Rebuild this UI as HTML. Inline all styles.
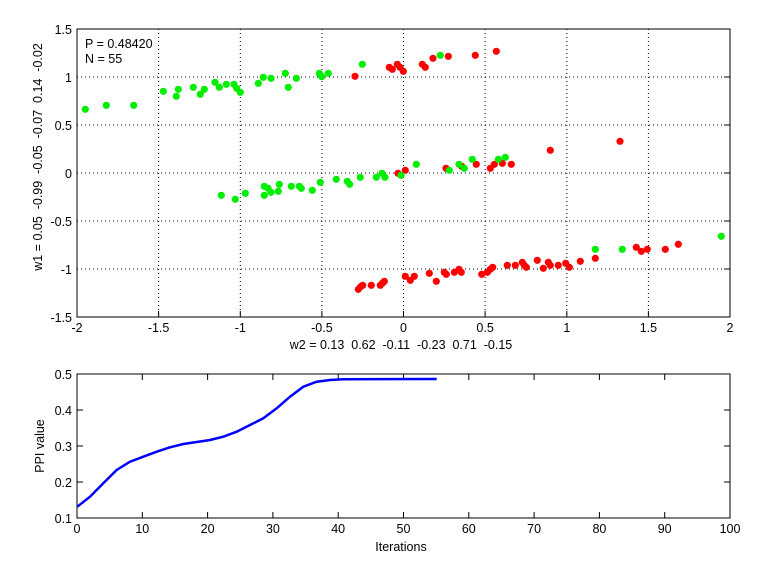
<!DOCTYPE html>
<html><head><meta charset="utf-8"><style>
html,body{margin:0;padding:0;background:#fff;}
svg{display:block;font-family:"Liberation Sans",sans-serif;}
</style></head><body>
<svg width="768" height="576" viewBox="0 0 768 576" xmlns="http://www.w3.org/2000/svg">
<rect width="768" height="576" fill="#fff"/>
<!-- top grid -->
<g stroke="#000" stroke-width="1" stroke-dasharray="1,3" fill="none">
<line x1="158.6" y1="29" x2="158.6" y2="317"/><line x1="240.3" y1="29" x2="240.3" y2="317"/>
<line x1="321.9" y1="29" x2="321.9" y2="317"/><line x1="403.5" y1="29" x2="403.5" y2="317"/>
<line x1="485.1" y1="29" x2="485.1" y2="317"/><line x1="566.8" y1="29" x2="566.8" y2="317"/>
<line x1="648.4" y1="29" x2="648.4" y2="317"/>
<line x1="77" y1="77" x2="730" y2="77"/><line x1="77" y1="125" x2="730" y2="125"/>
<line x1="77" y1="173" x2="730" y2="173"/><line x1="77" y1="221" x2="730" y2="221"/>
<line x1="77" y1="269" x2="730" y2="269"/>
</g>
<rect x="77" y="29" width="653" height="288" fill="none" stroke="#000" stroke-width="1"/>
<g stroke="#000">
<line x1="158.6" y1="317" x2="158.6" y2="311"/><line x1="240.3" y1="317" x2="240.3" y2="311"/><line x1="321.9" y1="317" x2="321.9" y2="311"/><line x1="403.5" y1="317" x2="403.5" y2="311"/><line x1="485.1" y1="317" x2="485.1" y2="311"/><line x1="566.8" y1="317" x2="566.8" y2="311"/><line x1="648.4" y1="317" x2="648.4" y2="311"/>
<line x1="724" y1="77" x2="730" y2="77"/><line x1="724" y1="125" x2="730" y2="125"/><line x1="724" y1="173" x2="730" y2="173"/><line x1="724" y1="221" x2="730" y2="221"/><line x1="724" y1="269" x2="730" y2="269"/>
</g>
<g font-size="12.5" fill="#000" text-anchor="middle">
<text x="77" y="332">-2</text><text x="158.6" y="332">-1.5</text><text x="240.3" y="332">-1</text><text x="321.9" y="332">-0.5</text><text x="403.5" y="332">0</text><text x="485.1" y="332">0.5</text><text x="566.8" y="332">1</text><text x="648.4" y="332">1.5</text><text x="730" y="332">2</text>
</g>
<g font-size="12.5" fill="#000" text-anchor="end">
<text x="72" y="34">1.5</text><text x="72" y="82">1</text><text x="72" y="130">0.5</text><text x="72" y="178">0</text><text x="72" y="226">-0.5</text><text x="72" y="274">-1</text><text x="72" y="322">-1.5</text>
</g>
<text x="401" y="349" font-size="12.5" text-anchor="middle" xml:space="preserve">w2 = 0.13  0.62  -0.11  -0.23  0.71  -0.15</text>
<text transform="translate(42,157) rotate(-90)" font-size="12.5" text-anchor="middle" xml:space="preserve">w1 = 0.05  -0.99  -0.05  -0.07  0.14  -0.02</text>
<text x="85" y="48" font-size="12.5">P = 0.48420</text>
<text x="85" y="63" font-size="12.5">N = 55</text>
<!-- green points -->
<g fill="#00ee00">
<circle cx="85.3" cy="109.3" r="3.6"/><circle cx="106.3" cy="105.3" r="3.6"/><circle cx="133.7" cy="105.3" r="3.6"/><circle cx="163.3" cy="91.3" r="3.6"/><circle cx="176.3" cy="96.3" r="3.6"/><circle cx="178.3" cy="89.3" r="3.6"/><circle cx="193.3" cy="87.3" r="3.6"/><circle cx="200.3" cy="94.3" r="3.6"/><circle cx="204.3" cy="89.3" r="3.6"/><circle cx="215" cy="82.3" r="3.6"/><circle cx="219.3" cy="87.3" r="3.6"/><circle cx="226.3" cy="84.3" r="3.6"/><circle cx="234" cy="84.3" r="3.6"/><circle cx="236.7" cy="88.3" r="3.6"/><circle cx="240.3" cy="92.3" r="3.6"/><circle cx="258.3" cy="83.3" r="3.6"/><circle cx="263.3" cy="77.3" r="3.6"/><circle cx="271" cy="78.3" r="3.6"/><circle cx="285.3" cy="73.3" r="3.6"/><circle cx="288.3" cy="87.3" r="3.6"/><circle cx="296.3" cy="78.3" r="3.6"/><circle cx="319.3" cy="73.3" r="3.6"/><circle cx="321.7" cy="76.7" r="3.6"/><circle cx="328.3" cy="73.3" r="3.6"/><circle cx="362.3" cy="64.3" r="3.6"/><circle cx="440.3" cy="55.3" r="3.6"/>
<circle cx="221.3" cy="195.3" r="3.6"/><circle cx="235.3" cy="199.3" r="3.6"/><circle cx="245.3" cy="193.3" r="3.6"/><circle cx="264.3" cy="186.3" r="3.6"/><circle cx="264.3" cy="195.3" r="3.6"/><circle cx="268" cy="188.3" r="3.6"/><circle cx="271" cy="192.3" r="3.6"/><circle cx="278.3" cy="191.3" r="3.6"/><circle cx="279.3" cy="184.3" r="3.6"/><circle cx="291.3" cy="186.3" r="3.6"/><circle cx="299.3" cy="186.3" r="3.6"/><circle cx="301.3" cy="188.3" r="3.6"/><circle cx="312.3" cy="190.3" r="3.6"/><circle cx="320.3" cy="182.3" r="3.6"/><circle cx="336.3" cy="179.3" r="3.6"/><circle cx="347.3" cy="181.3" r="3.6"/><circle cx="349.7" cy="184.3" r="3.6"/><circle cx="360.3" cy="177.3" r="3.6"/><circle cx="376.3" cy="177.3" r="3.6"/><circle cx="382" cy="173.3" r="3.6"/><circle cx="385" cy="177.3" r="3.6"/>
</g>
<g fill="#ff0000">
<circle cx="355" cy="76.3" r="3.6"/><circle cx="389.3" cy="67.3" r="3.6"/><circle cx="392.3" cy="69.3" r="3.6"/><circle cx="397.3" cy="64.3" r="3.6"/><circle cx="400" cy="67.3" r="3.6"/><circle cx="403.3" cy="71.3" r="3.6"/><circle cx="422.3" cy="64.3" r="3.6"/><circle cx="425.3" cy="67.3" r="3.6"/><circle cx="433" cy="58.3" r="3.6"/><circle cx="448.3" cy="56.3" r="3.6"/><circle cx="475.3" cy="55.3" r="3.6"/><circle cx="496.3" cy="51.3" r="3.6"/>
<circle cx="398" cy="173.3" r="3.6"/><circle cx="405.3" cy="170.3" r="3.6"/><circle cx="446" cy="168.3" r="3.6"/><circle cx="461.7" cy="166.3" r="3.6"/><circle cx="476.3" cy="164.3" r="3.6"/><circle cx="490.3" cy="168.3" r="3.6"/><circle cx="494.3" cy="164.3" r="3.6"/><circle cx="502.3" cy="163.3" r="3.6"/><circle cx="511.3" cy="164.3" r="3.6"/><circle cx="550.3" cy="150.3" r="3.6"/><circle cx="620" cy="141.3" r="3.6"/>
<circle cx="358.3" cy="289.3" r="3.6"/><circle cx="360.7" cy="286.7" r="3.6"/><circle cx="362.7" cy="285.3" r="3.6"/><circle cx="371.3" cy="285.3" r="3.6"/><circle cx="380.3" cy="285.3" r="3.6"/><circle cx="382.3" cy="283.3" r="3.6"/><circle cx="384.3" cy="281.3" r="3.6"/><circle cx="405.3" cy="276.3" r="3.6"/><circle cx="410.3" cy="280.3" r="3.6"/><circle cx="414.3" cy="276.3" r="3.6"/><circle cx="429.3" cy="273.3" r="3.6"/><circle cx="436.3" cy="281.3" r="3.6"/><circle cx="444.3" cy="272.3" r="3.6"/><circle cx="446.3" cy="274.3" r="3.6"/><circle cx="454.3" cy="272.3" r="3.6"/><circle cx="459" cy="269.3" r="3.6"/><circle cx="461.3" cy="272.3" r="3.6"/><circle cx="481.7" cy="274.3" r="3.6"/><circle cx="487.3" cy="272.3" r="3.6"/><circle cx="490.3" cy="269.3" r="3.6"/><circle cx="492.7" cy="267.3" r="3.6"/><circle cx="507.3" cy="265.3" r="3.6"/><circle cx="515.3" cy="265.3" r="3.6"/><circle cx="522.3" cy="262.3" r="3.6"/><circle cx="524.3" cy="265.3" r="3.6"/><circle cx="526.3" cy="267.3" r="3.6"/><circle cx="537.3" cy="260.3" r="3.6"/><circle cx="543.3" cy="268.3" r="3.6"/><circle cx="548.3" cy="262.3" r="3.6"/><circle cx="550.3" cy="265.3" r="3.6"/><circle cx="558.3" cy="265.3" r="3.6"/><circle cx="565.7" cy="263.3" r="3.6"/><circle cx="569.3" cy="267.3" r="3.6"/><circle cx="580.3" cy="261.3" r="3.6"/><circle cx="595.3" cy="258.3" r="3.6"/><circle cx="636.3" cy="247.3" r="3.6"/><circle cx="641.3" cy="251.3" r="3.6"/><circle cx="647.3" cy="249.3" r="3.6"/><circle cx="665.3" cy="249.3" r="3.6"/><circle cx="678.3" cy="244.3" r="3.6"/>
</g>
<g fill="#00ee00">
<circle cx="401" cy="175.3" r="3.6"/><circle cx="416.3" cy="164.3" r="3.6"/><circle cx="449.3" cy="170.3" r="3.6"/><circle cx="459" cy="164.3" r="3.6"/><circle cx="464.3" cy="168.3" r="3.6"/><circle cx="472.3" cy="159.3" r="3.6"/><circle cx="498.3" cy="159.3" r="3.6"/><circle cx="505.3" cy="157.3" r="3.6"/>
<circle cx="595.3" cy="249.3" r="3.6"/><circle cx="622.3" cy="249.3" r="3.6"/><circle cx="721.3" cy="236.3" r="3.6"/>
</g>
<!-- bottom chart -->
<rect x="77" y="374" width="653" height="144" fill="none" stroke="#000" stroke-width="1"/>
<g stroke="#000">
<line x1="142.3" y1="518" x2="142.3" y2="512"/><line x1="207.6" y1="518" x2="207.6" y2="512"/><line x1="272.9" y1="518" x2="272.9" y2="512"/><line x1="338.2" y1="518" x2="338.2" y2="512"/><line x1="403.5" y1="518" x2="403.5" y2="512"/><line x1="468.8" y1="518" x2="468.8" y2="512"/><line x1="534.1" y1="518" x2="534.1" y2="512"/><line x1="599.4" y1="518" x2="599.4" y2="512"/><line x1="664.7" y1="518" x2="664.7" y2="512"/>
<line x1="142.3" y1="374" x2="142.3" y2="380"/><line x1="207.6" y1="374" x2="207.6" y2="380"/><line x1="272.9" y1="374" x2="272.9" y2="380"/><line x1="338.2" y1="374" x2="338.2" y2="380"/><line x1="403.5" y1="374" x2="403.5" y2="380"/><line x1="468.8" y1="374" x2="468.8" y2="380"/><line x1="534.1" y1="374" x2="534.1" y2="380"/><line x1="599.4" y1="374" x2="599.4" y2="380"/><line x1="664.7" y1="374" x2="664.7" y2="380"/>
<line x1="77" y1="410" x2="83" y2="410"/><line x1="77" y1="446" x2="83" y2="446"/><line x1="77" y1="482" x2="83" y2="482"/>
<line x1="724" y1="410" x2="730" y2="410"/><line x1="724" y1="446" x2="730" y2="446"/><line x1="724" y1="482" x2="730" y2="482"/>
</g>
<g font-size="12.5" text-anchor="middle">
<text x="77" y="533">0</text><text x="142.3" y="533">10</text><text x="207.6" y="533">20</text><text x="272.9" y="533">30</text><text x="338.2" y="533">40</text><text x="403.5" y="533">50</text><text x="468.8" y="533">60</text><text x="534.1" y="533">70</text><text x="599.4" y="533">80</text><text x="664.7" y="533">90</text><text x="730" y="533">100</text>
</g>
<g font-size="12.5" text-anchor="end">
<text x="72" y="379">0.5</text><text x="72" y="415">0.4</text><text x="72" y="451">0.3</text><text x="72" y="487">0.2</text><text x="72" y="523">0.1</text>
</g>
<text x="401" y="551" font-size="12.5" text-anchor="middle">Iterations</text>
<text transform="translate(44,446) rotate(-90)" font-size="12.5" text-anchor="middle">PPI value</text>
<polyline fill="none" stroke="#0000ff" stroke-width="2.5" points="77.3,506.7 90,496.7 103.3,483.3 116.7,470 130,461.7 143.3,456.7 156.7,451.7 170,447.3 183.3,444 196.7,442 210,440 223.3,436.7 236.7,431.7 250,425 263.3,418.3 276.7,408.3 290,396.7 303.3,386.7 316.7,381.7 330,380 343.3,379.3 436.7,379"/>
</svg>
</body></html>
